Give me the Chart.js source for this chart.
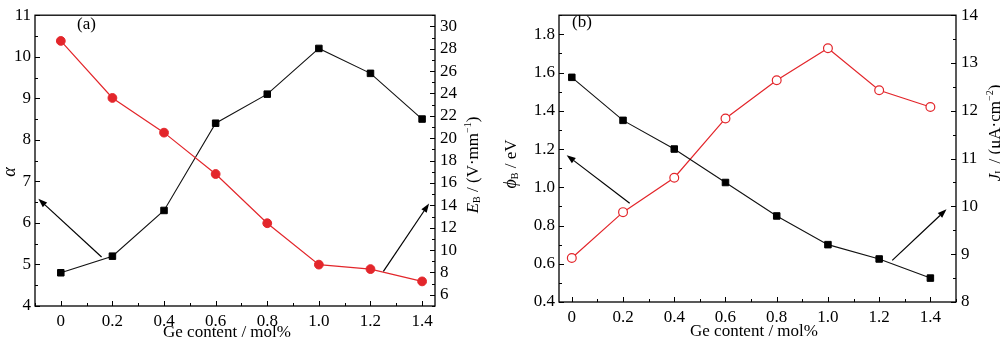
<!DOCTYPE html>
<html>
<head>
<meta charset="utf-8">
<script src="https://cdn.jsdelivr.net/npm/chart.js@4/dist/chart.umd.min.js"></script>
<style>
  html, body { margin: 0; padding: 0; background: #fff; }
  .wrap { position: absolute; top: 0; width: 500px; height: 342px; }
</style>
</head>
<body>
<div class="wrap" style="left:0"><canvas id="chartA" width="500" height="342"></canvas></div>
<div class="wrap" style="left:500px"><canvas id="chartB" width="500" height="342"></canvas></div>

<script>
/* =========================
   DADOS
========================= */

const geContent = [0, 0.2, 0.4, 0.6, 0.8, 1.0, 1.2, 1.4];

// painel (a)
const alphaValues = [4.8, 5.2, 6.3, 8.4, 9.1, 10.2, 9.6, 8.5];
const ebValues = [28.7, 23.6, 20.5, 16.8, 12.4, 8.7, 8.3, 7.2];

// painel (b)
const phiValues = [1.575, 1.35, 1.2, 1.025, 0.85, 0.70, 0.625, 0.525];
const jlValues = [8.92, 9.88, 10.6, 11.84, 12.64, 13.31, 12.43, 12.08];

// ticks
const xTicks = [0, 0.2, 0.4, 0.6, 0.8, 1.0, 1.2, 1.4];
const alphaTicks = [4, 5, 6, 7, 8, 9, 10, 11];
const ebTicks = [6, 8, 10, 12, 14, 16, 18, 20, 22, 24, 26, 28, 30];
const phiTicks = [0.4, 0.6, 0.8, 1.0, 1.2, 1.4, 1.6, 1.8];
const jlTicks = [8, 9, 10, 11, 12, 13, 14];

// setas (coordenadas em dados)
const arrowsA = [
  { from: [0.158, 5.18], to: [-0.087, 6.58], axis: "y" },
  { from: [1.25, 8.1], to: [1.427, 14.16], axis: "y1" }
];
const arrowsB = [
  { from: [0.226, 0.917], to: [-0.02, 1.168], axis: "y" },
  { from: [1.251, 8.87], to: [1.463, 9.94], axis: "y1" }
];

const RED = "#e3262b";
const FONT = '"Liberation Serif", "DejaVu Serif", serif';
const FS = 17;

/* =========================
   HELPERS
========================= */

const pts = (xs, ys) => xs.map((x, i) => ({ x, y: ys[i] }));
const fixTicks = list => scale => { scale.ticks = list.map(v => ({ value: v })); };

// texto com sub/sobrescrito, girado -90 graus
function drawRichText(ctx, parts, cx, cy, rotate) {
  ctx.save();
  ctx.translate(cx, cy);
  if (rotate) ctx.rotate(-Math.PI / 2);
  ctx.textBaseline = "alphabetic";
  ctx.textAlign = "left";
  let total = 0;
  parts.forEach(p => {
    ctx.font = (p.italic ? "italic " : "") + (p.size || FS) + "px " + FONT;
    p.w = ctx.measureText(p.t).width;
    total += p.w;
  });
  let x = -total / 2;
  parts.forEach(p => {
    ctx.font = (p.italic ? "italic " : "") + (p.size || FS) + "px " + FONT;
    ctx.fillStyle = "#000";
    ctx.fillText(p.t, x, 6 + (p.dy || 0));
    x += p.w;
  });
  ctx.restore();
}

function drawArrow(ctx, x1, y1, x2, y2) {
  const ang = Math.atan2(y2 - y1, x2 - x1);
  const len = 9, half = 3.2;
  const bx = x2 - len * Math.cos(ang), by = y2 - len * Math.sin(ang);
  ctx.beginPath();
  ctx.moveTo(x1, y1);
  ctx.lineTo(bx, by);
  ctx.stroke();
  ctx.beginPath();
  ctx.moveTo(x2, y2);
  ctx.lineTo(bx + half * Math.sin(ang), by - half * Math.cos(ang));
  ctx.lineTo(bx - half * Math.sin(ang), by + half * Math.cos(ang));
  ctx.closePath();
  ctx.fill();
}

/* =========================
   PLUGIN: moldura, ticks internos, títulos, setas
========================= */

function framePlugin(cfg) {
  return {
    id: "frame",
    afterDraw(chart) {
      const ctx = chart.ctx;
      const a = chart.chartArea;
      ctx.save();
      ctx.strokeStyle = "#000";
      ctx.fillStyle = "#000";
      ctx.lineWidth = 1.3;
      ctx.strokeRect(a.left, a.top, a.right - a.left, a.bottom - a.top);

      ctx.lineWidth = 1;
      const tick = (scaleId, step, len) => {
        const s = chart.scales[scaleId];
        const start = Math.ceil((s.min - 1e-9) / step);
        const end = Math.floor((s.max + 1e-9) / step);
        for (let i = start; i <= end; i++) {
          const p = Math.round(s.getPixelForValue(i * step)) + 0.5;
          ctx.beginPath();
          if (scaleId === "x") { ctx.moveTo(p, a.bottom); ctx.lineTo(p, a.bottom - len); }
          else if (scaleId === "y") { ctx.moveTo(a.left, p); ctx.lineTo(a.left + len, p); }
          else { ctx.moveTo(a.right, p); ctx.lineTo(a.right - len, p); }
          ctx.stroke();
        }
      };
      cfg.ticks.forEach(t => { tick(t.id, t.major, 5); tick(t.id, t.minor, 3); });

      ctx.lineWidth = 1.2;
      cfg.arrows.forEach(ar => {
        const xs = chart.scales.x, ys = chart.scales[ar.axis];
        drawArrow(ctx,
          xs.getPixelForValue(ar.from[0]), ys.getPixelForValue(ar.from[1]),
          xs.getPixelForValue(ar.to[0]), ys.getPixelForValue(ar.to[1]));
      });

      ctx.font = FS + "px " + FONT;
      ctx.textBaseline = "middle";
      ctx.textAlign = "left";
      ctx.fillText(cfg.panel.text, cfg.panel.x, cfg.panel.y);

      ctx.textAlign = "center";
      ctx.fillText("Ge content / mol%", cfg.xTitle.x, cfg.xTitle.y);

      cfg.titles.forEach(t => drawRichText(ctx, t.parts, t.x, t.y, t.rotate));
      ctx.restore();
    }
  };
}

/* =========================
   CHART
========================= */

function makeChart(id, o) {
  const tickFont = { family: FONT, size: FS };
  return new Chart(document.getElementById(id), {
    type: "scatter",
    data: { datasets: o.datasets },
    options: {
      responsive: false,
      animation: false,
      layout: { padding: { top: o.top, left: 0, right: 0, bottom: 0 } },
      plugins: { legend: { display: false }, tooltip: { enabled: false } },
      scales: {
        x: {
          type: "linear", min: o.xMin, max: o.xMax,
          afterBuildTicks: fixTicks(xTicks),
          afterFit: s => { s.height = o.xHeight; },
          grid: { display: false, drawTicks: false },
          border: { display: false },
          ticks: { font: tickFont, color: "#000", padding: 5, maxRotation: 0,
                   callback: v => v === 0 ? "0" : v.toFixed(1) }
        },
        y: {
          position: "left", min: o.y.min, max: o.y.max,
          afterBuildTicks: fixTicks(o.y.ticks),
          afterFit: s => { s.width = o.y.width; },
          grid: { display: false, drawTicks: false },
          border: { display: false },
          ticks: { font: tickFont, color: "#000", padding: 4, callback: o.y.fmt }
        },
        y1: {
          position: "right", min: o.y1.min, max: o.y1.max,
          afterBuildTicks: fixTicks(o.y1.ticks),
          afterFit: s => { s.width = o.y1.width; },
          grid: { display: false, drawTicks: false },
          border: { display: false },
          ticks: { font: tickFont, color: "#000", padding: 5, callback: o.y1.fmt }
        }
      }
    },
    plugins: [framePlugin(o.frame)]
  });
}

const squareSet = (data, axis) => ({
  data: pts(geContent, data), yAxisID: axis, showLine: true,
  borderColor: "#111", borderWidth: 1.1,
  pointStyle: "rect", pointRadius: 4.6, pointBorderWidth: 1,
  pointBackgroundColor: "#000", pointBorderColor: "#000"
});

// (a)
makeChart("chartA", {
  top: 10, xHeight: 36, xMin: -0.1, xMax: 1.45,
  y: { min: 4, max: 11, ticks: alphaTicks, width: 35, fmt: v => String(v) },
  y1: { min: 5, max: 31, ticks: ebTicks, width: 65, fmt: v => String(v) },
  datasets: [
    {
      data: pts(geContent, ebValues), yAxisID: "y1", showLine: true,
      borderColor: RED, borderWidth: 1.2,
      pointStyle: "circle", pointRadius: 4.4, pointBorderWidth: 1,
      pointBackgroundColor: RED, pointBorderColor: RED
    },
    squareSet(alphaValues, "y")
  ],
  frame: {
    ticks: [
      { id: "x", major: 0.2, minor: 0.1 },
      { id: "y", major: 1, minor: 0.5 },
      { id: "y1", major: 2, minor: 1 }
    ],
    arrows: arrowsA,
    panel: { text: "(a)", x: 77, y: 25 },
    xTitle: { x: 227, y: 333 },
    titles: [
      { x: 9, y: 172, rotate: true, parts: [{ t: "α", italic: true, size: 18 }] },
      { x: 472, y: 165, rotate: true, parts: [
        { t: "E", italic: true }, { t: "B", size: 10, dy: 2 },
        { t: " / (V·mm" }, { t: "−1", size: 10, dy: -7 }, { t: ")" }
      ] }
    ]
  }
});

// (b)
makeChart("chartB", {
  top: 8, xHeight: 40, xMin: -0.05, xMax: 1.5,
  y: { min: 0.4, max: 1.9, ticks: phiTicks, width: 59, fmt: v => v.toFixed(1) },
  y1: { min: 8, max: 14, ticks: jlTicks, width: 44, fmt: v => String(v) },
  datasets: [
    squareSet(phiValues, "y"),
    {
      data: pts(geContent, jlValues), yAxisID: "y1", showLine: true,
      borderColor: RED, borderWidth: 1.2,
      pointStyle: "circle", pointRadius: 4.4, pointBorderWidth: 1.2,
      pointBackgroundColor: "#fff", pointBorderColor: RED
    }
  ],
  frame: {
    ticks: [
      { id: "x", major: 0.2, minor: 0.1 },
      { id: "y", major: 0.2, minor: 0.1 },
      { id: "y1", major: 1, minor: 0.5 }
    ],
    arrows: arrowsB,
    panel: { text: "(b)", x: 72, y: 23 },
    xTitle: { x: 254, y: 332 },
    titles: [
      { x: 10, y: 164, rotate: true, parts: [
        { t: "ϕ", italic: true, size: 18 }, { t: "B", size: 10, dy: 2 }, { t: " / eV" }
      ] },
      { x: 494, y: 133, rotate: true, parts: [
        { t: "J", italic: true }, { t: "L", size: 10, dy: 2 },
        { t: " / (μA·cm" }, { t: "−2", size: 10, dy: -7 }, { t: ")" }
      ] }
    ]
  }
});
</script>
</body>
</html>
